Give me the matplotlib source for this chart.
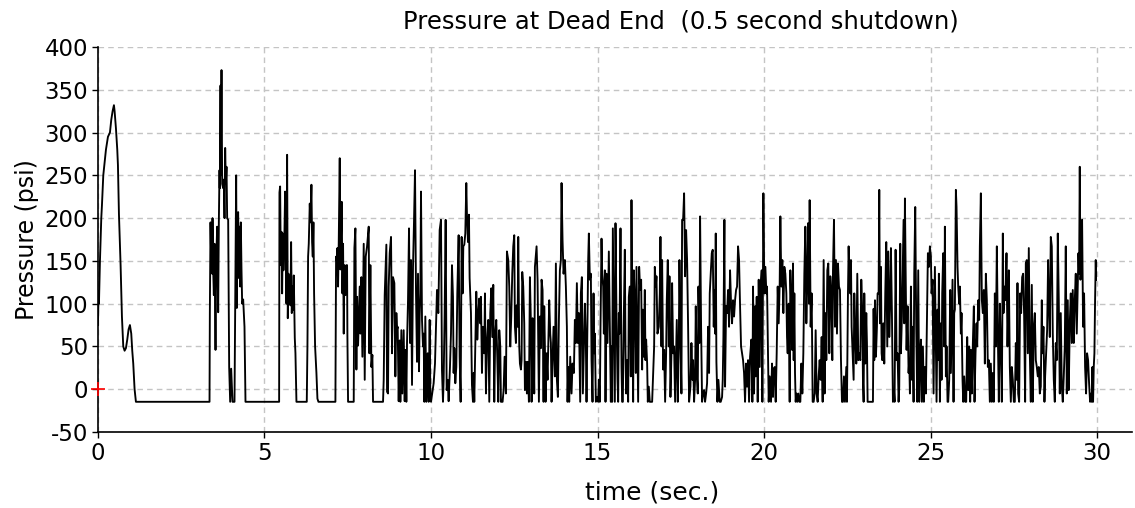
import numpy as np
import matplotlib
matplotlib.use("Agg")
import matplotlib.pyplot as plt

# ===== DATA (time in s, pressure in psi) =====
VAPOR = -14.7  # line sits here when the pipe cavitates

seg_startup = [(0.0, 75), (0.02, 115), (0.03, 100), (0.06, 150), (0.10, 200), (0.12, 215),
               (0.16, 250), (0.20, 265), (0.24, 280), (0.30, 295), (0.36, 300), (0.40, 315),
               (0.44, 325), (0.48, 332), (0.50, 325), (0.54, 305), (0.58, 280), (0.60, 262),
               (0.63, 205), (0.68, 145), (0.72, 85), (0.76, 50), (0.80, 45), (0.84, 48),
               (0.88, 58), (0.92, 70), (0.96, 75), (1.00, 65), (1.03, 45), (1.06, 30),
               (1.10, 0), (1.14, VAPOR)]

seg_3s = [(3.35, VAPOR), (3.36, 90), (3.38, 195), (3.40, 150), (3.41, 185), (3.43, 135),
          (3.44, 200), (3.46, 140), (3.48, 110), (3.50, 170), (3.53, 46), (3.55, 150),
          (3.58, 190), (3.61, 90), (3.63, 195), (3.65, 256), (3.66, 235), (3.68, 355),
          (3.69, 250), (3.71, 373), (3.73, 240), (3.76, 235), (3.78, 245), (3.80, 200),
          (3.82, 282), (3.84, 240), (3.86, 260), (3.88, 200), (3.91, 198), (3.94, 26),
          (3.97, VAPOR), (4.00, 24), (4.04, VAPOR), (4.10, VAPOR), (4.13, 147), (4.15, 250),
          (4.17, 95), (4.19, 200), (4.21, 207), (4.23, 130), (4.25, 190), (4.27, 120),
          (4.29, 195), (4.31, 140), (4.33, 100), (4.36, 105), (4.40, 73), (4.43, VAPOR)]

seg_5s = [(5.44, VAPOR), (5.45, 230), (5.47, 237), (5.49, 145), (5.51, 184), (5.53, 112),
          (5.55, 182), (5.57, 139), (5.59, 160), (5.62, 231), (5.64, 186), (5.66, 100),
          (5.68, 274), (5.70, 83), (5.72, 135), (5.74, 112), (5.76, 120), (5.78, 98),
          (5.80, 172), (5.82, 89), (5.84, 120), (5.86, 93), (5.88, 133), (5.91, 60),
          (5.93, 42), (5.96, VAPOR), (6.27, VAPOR), (6.29, 50), (6.31, 155), (6.33, 170),
          (6.36, 217), (6.38, 195), (6.41, 239), (6.43, 172), (6.45, 155), (6.47, 195),
          (6.49, 112), (6.52, 50), (6.56, 19), (6.59, -11), (6.62, VAPOR), (7.13, VAPOR),
          (7.15, 155), (7.17, 150), (7.19, 165), (7.21, 120), (7.23, 172), (7.26, 270),
          (7.28, 140), (7.30, 180), (7.32, 219), (7.34, 112), (7.36, 170), (7.38, 65),
          (7.40, 145), (7.43, 110), (7.46, 145)]

seg_7s = [(7.48, 145), (7.49, 63), (7.51, VAPOR), (7.68, VAPOR), (7.70, 165), (7.73, 188),
          (7.76, 23), (7.78, 108), (7.81, 51), (7.86, 120), (7.88, 65), (7.91, 131),
          (7.94, 38), (7.98, 170), (8.01, 11), (8.04, 155), (8.08, 167), (8.13, 190),
          (8.15, 42), (8.18, 145), (8.21, 26), (8.24, 40), (8.26, VAPOR), (8.56, VAPOR),
          (8.58, 11), (8.61, 110), (8.66, 169), (8.68, -3), (8.71, -5), (8.73, 120),
          (8.76, 159), (8.80, 178), (8.83, 42), (8.86, 131), (8.90, 124), (8.93, 15),
          (8.96, 89), (8.98, 70), (9.00, 73), (9.03, -14), (9.06, 57), (9.08, VAPOR),
          (9.11, 69), (9.14, -5), (9.18, 69), (9.21, -14), (9.24, 46), (9.26, VAPOR),
          (9.28, 54), (9.31, 104), (9.34, 188), (9.37, 54), (9.40, 151), (9.43, 5),
          (9.46, 143), (9.49, 196), (9.52, 256), (9.55, 112), (9.58, 32), (9.61, 135),
          (9.64, 21), (9.66, 85), (9.68, 112), (9.70, 231), (9.73, 81), (9.76, 50),
          (9.78, 65), (9.80, VAPOR), (9.83, 85), (9.86, VAPOR), (9.90, 42), (9.93, VAPOR),
          (9.96, 81), (9.98, -5)]

seg_10s = [(10.00, VAPOR), (10.08, 7), (10.12, 30), (10.18, 116), (10.22, 89), (10.26, 186),
           (10.30, 198), (10.33, 22), (10.36, VAPOR), (10.38, 11), (10.41, 89), (10.44, 198),
           (10.47, -1), (10.50, 11), (10.53, -14), (10.57, 26), (10.60, 65), (10.63, 145),
           (10.66, 108), (10.68, 19), (10.70, 48), (10.73, 7), (10.76, 26), (10.79, 112),
           (10.83, 180), (10.86, 38), (10.89, VAPOR), (10.92, 178), (10.95, 112), (10.97, 167),
           (11.00, 169), (11.03, 182), (11.06, 241), (11.08, 204), (11.11, 172), (11.14, 204),
           (11.16, 130), (11.20, 89), (11.23, 5), (11.26, VAPOR), (11.28, 19), (11.30, VAPOR),
           (11.33, 50), (11.36, 114), (11.39, 58), (11.42, 89), (11.45, 106), (11.48, 77),
           (11.50, 108), (11.53, 19), (11.56, 73), (11.60, 42), (11.62, 112), (11.65, -5),
           (11.68, 54), (11.72, 81), (11.75, VAPOR), (11.78, 89), (11.81, 118), (11.84, 61),
           (11.87, 122), (11.90, VAPOR), (11.93, 65), (11.96, 81), (11.99, 38), (12.02, VAPOR),
           (12.05, 69), (12.08, 50), (12.10, VAPOR), (12.15, VAPOR), (12.18, -1), (12.21, 38),
           (12.25, -5), (12.28, 161), (12.32, 151), (12.35, 120), (12.38, 50), (12.41, 85),
           (12.44, 135), (12.47, 167), (12.50, 180)]

seg_12s = [(12.52, 73), (12.55, 54), (12.57, 98), (12.60, 73), (12.62, 178), (12.65, 50),
           (12.67, 30), (12.70, 23), (12.72, 34), (12.74, 137), (12.77, 120), (12.80, 77),
           (12.82, -1), (12.85, 32), (12.88, -5), (12.90, 32), (12.94, VAPOR), (12.97, 131),
           (13.00, 77), (13.02, VAPOR), (13.05, 83), (13.08, 50), (13.10, -5), (13.12, 143),
           (13.15, 157), (13.17, 167), (13.20, 128), (13.22, 54), (13.24, VAPOR), (13.27, 85),
           (13.30, 48), (13.32, 128), (13.35, 116), (13.38, VAPOR), (13.40, 97), (13.42, 50),
           (13.44, VAPOR), (13.47, 42), (13.50, 11), (13.52, 46), (13.55, 104), (13.58, 65),
           (13.60, 54), (13.62, VAPOR), (13.65, 34), (13.68, 73), (13.72, 15), (13.75, 147),
           (13.78, 11), (13.81, -9), (13.84, 81), (13.87, 139), (13.90, 151), (13.92, 241),
           (13.95, 174), (13.98, 135), (14.02, 151), (14.05, 120), (14.08, 73), (14.10, VAPOR),
           (14.12, 26), (14.15, VAPOR), (14.18, 38), (14.22, -5), (14.25, 30), (14.29, 19),
           (14.32, 81), (14.35, 54), (14.38, 124), (14.41, 54), (14.44, 89), (14.48, VAPOR),
           (14.50, 112), (14.53, 131), (14.56, -5), (14.59, 50), (14.62, 100), (14.65, 54),
           (14.67, VAPOR), (14.70, 81), (14.72, 151), (14.74, 182), (14.77, 128), (14.80, 135),
           (14.82, 34), (14.85, VAPOR), (14.88, 112), (14.90, 42), (14.92, 65), (14.95, VAPOR),
           (14.99, -9), (15.02, VAPOR)]

seg_15s = [(15.04, 11), (15.07, VAPOR), (15.09, 73), (15.12, 176), (15.14, 135), (15.17, 120),
           (15.19, 65), (15.22, 139), (15.24, VAPOR), (15.27, 135), (15.30, 54), (15.32, 112),
           (15.34, 161), (15.37, 73), (15.40, VAPOR), (15.42, 50), (15.44, VAPOR), (15.46, 188),
           (15.49, 89), (15.52, VAPOR), (15.54, 194), (15.57, 85), (15.60, 11), (15.62, VAPOR),
           (15.64, 89), (15.66, 65), (15.69, 188), (15.72, 26), (15.74, VAPOR), (15.76, VAPOR),
           (15.79, 85), (15.82, 163), (15.84, 46), (15.86, -5), (15.89, 34), (15.92, VAPOR),
           (15.94, 108), (15.97, 120), (16.00, 15), (16.02, 221), (16.04, 97), (16.07, VAPOR),
           (16.09, 139), (16.12, 104), (16.15, 19), (16.17, 143), (16.20, 46), (16.22, VAPOR),
           (16.25, 143), (16.28, 116), (16.31, 128), (16.34, 23), (16.36, 93), (16.39, 38),
           (16.42, 116), (16.44, 34), (16.46, 58), (16.49, 30), (16.51, VAPOR), (16.54, 3),
           (16.57, VAPOR), (16.64, VAPOR), (16.67, 19), (16.70, 50), (16.72, 143), (16.75, 120),
           (16.77, 132), (16.80, 65), (16.84, 73), (16.87, 112), (16.89, 178), (16.92, 50),
           (16.94, 151), (16.97, 23), (17.00, 46), (17.03, VAPOR), (17.06, 42), (17.08, 104),
           (17.11, 151), (17.14, 50), (17.16, 132), (17.19, -9), (17.22, 42), (17.24, 124),
           (17.27, 42), (17.30, 50), (17.33, VAPOR), (17.36, 46), (17.38, 81), (17.41, VAPOR),
           (17.44, 50), (17.46, 151), (17.49, 61), (17.52, -5), (17.54, 198)]

seg_17s = [(17.57, 198), (17.60, 229), (17.63, 132), (17.66, 186), (17.69, 151), (17.72, 73),
           (17.75, VAPOR), (17.79, 3), (17.82, 54), (17.85, 11), (17.87, 34), (17.90, VAPOR),
           (17.93, 11), (17.95, 97), (17.98, 19), (18.01, -5), (18.03, 120), (18.06, 54),
           (18.08, 202), (18.11, 73), (18.14, VAPOR), (18.17, -5), (18.20, -1), (18.23, VAPOR),
           (18.26, -5), (18.29, 7), (18.32, 73), (18.35, 19), (18.37, 112), (18.40, 135),
           (18.43, 159), (18.46, 163), (18.49, 73), (18.51, 116), (18.53, 65), (18.55, 182),
           (18.57, 32), (18.60, VAPOR), (18.63, 11), (18.67, VAPOR), (18.70, VAPOR), (18.74, -9),
           (18.76, 11), (18.78, 61), (18.81, 198), (18.83, 3), (18.86, 97), (18.89, 89),
           (18.92, 116), (18.95, 73), (18.98, 139), (19.01, 100), (19.04, 77), (19.07, 104),
           (19.10, 85), (19.13, 104), (19.16, 116), (19.19, 120), (19.22, 167), (19.25, 151),
           (19.28, 97), (19.31, 50), (19.34, 42), (19.37, 34), (19.40, 19), (19.43, VAPOR),
           (19.46, 30), (19.49, 3), (19.52, 34), (19.55, VAPOR), (19.58, 38), (19.62, 58),
           (19.65, VAPOR), (19.67, 120), (19.70, -5), (19.73, 97), (19.75, 15), (19.78, 108),
           (19.81, VAPOR), (19.84, 128), (19.87, 26), (19.90, 120), (19.93, 139), (19.95, VAPOR),
           (19.98, 229), (20.01, 112), (20.04, 143), (20.07, 112)]

seg_20s = [(20.09, 120), (20.12, 34), (20.14, VAPOR), (20.17, 15), (20.21, VAPOR), (20.24, 30),
           (20.27, -9), (20.29, 23), (20.32, 26), (20.35, VAPOR), (20.38, 42), (20.41, 120),
           (20.44, 77), (20.47, 124), (20.49, 202), (20.52, 120), (20.55, 151), (20.58, 89),
           (20.61, 143), (20.64, 135), (20.67, 112), (20.69, 61), (20.71, 42), (20.74, 100),
           (20.77, VAPOR), (20.79, 139), (20.82, 89), (20.84, 46), (20.87, 147), (20.89, 34),
           (20.91, 112), (20.93, 19), (20.95, VAPOR), (20.97, -5), (21.00, VAPOR), (21.03, -5),
           (21.06, VAPOR), (21.09, VAPOR), (21.12, 30), (21.15, -5), (21.18, 42), (21.21, 135),
           (21.24, 190), (21.27, 77), (21.29, 112), (21.32, 194), (21.35, 100), (21.37, 221),
           (21.40, 73), (21.43, 112), (21.46, VAPOR), (21.49, VAPOR), (21.52, -5), (21.55, 69),
           (21.58, -5), (21.61, VAPOR), (21.64, 15), (21.67, 34), (21.70, 11), (21.73, 61),
           (21.76, VAPOR), (21.79, 151), (21.82, -5), (21.85, 89), (21.87, 34), (21.90, 139),
           (21.93, 147), (21.96, 42), (21.99, 132), (22.02, 112), (22.05, 34), (22.07, 139),
           (22.10, 198), (22.13, 73), (22.16, 151), (22.19, 65), (22.22, 147), (22.25, 120),
           (22.28, 116), (22.31, 34), (22.34, VAPOR), (22.37, VAPOR), (22.40, 15), (22.43, VAPOR),
           (22.45, 7), (22.47, 26), (22.49, VAPOR), (22.52, 112), (22.54, 167), (22.57, 120),
           (22.59, 112)]

seg_22s = [(22.61, 151), (22.63, 73), (22.66, 42), (22.69, 11), (22.71, 112), (22.74, 61),
           (22.77, 30), (22.80, 135), (22.83, 34), (22.86, 42), (22.89, 34), (22.92, 128),
           (22.95, 89), (22.97, 11), (22.99, VAPOR), (23.01, 112), (23.04, 30), (23.07, 89),
           (23.09, 54), (23.11, VAPOR), (23.27, VAPOR), (23.29, 94), (23.31, 34), (23.33, 104),
           (23.36, 38), (23.39, 73), (23.41, 112), (23.44, 112), (23.46, 233), (23.48, 77),
           (23.51, 143), (23.53, 42), (23.55, 34), (23.58, 77), (23.61, 30), (23.64, 112),
           (23.67, 172), (23.70, 50), (23.73, 161), (23.76, 61), (23.79, 106), (23.81, 165),
           (23.84, 89), (23.87, VAPOR), (23.90, -1), (23.92, VAPOR), (23.95, 163), (23.98, 34),
           (24.01, 42), (24.04, VAPOR), (24.06, 3), (24.09, 170), (24.11, 42), (24.14, 85),
           (24.16, 132), (24.19, 198), (24.21, 77), (24.23, 223), (24.26, 108), (24.28, 46),
           (24.31, 97), (24.34, 19), (24.36, 34), (24.38, -5), (24.41, 120), (24.44, 11),
           (24.46, 73), (24.49, VAPOR), (24.51, 135), (24.54, 213), (24.57, 73), (24.60, VAPOR),
           (24.63, 139), (24.66, VAPOR), (24.69, 42), (24.71, 58), (24.74, VAPOR), (24.77, 50),
           (24.80, VAPOR), (24.83, 26), (24.86, -5), (24.89, 81), (24.92, 159), (24.95, 143),
           (24.98, 167), (25.01, 155), (25.03, 112), (25.06, 128), (25.09, -5)]

seg_25s = [(25.13, 143), (25.16, 42), (25.18, VAPOR), (25.21, 93), (25.23, 34), (25.25, 135),
           (25.28, VAPOR), (25.31, 77), (25.33, 11), (25.35, 112), (25.38, 159), (25.41, 50),
           (25.43, 190), (25.46, 15), (25.48, 50), (25.51, VAPOR), (25.53, VAPOR), (25.56, 11),
           (25.59, 116), (25.61, 19), (25.63, 61), (25.66, 128), (25.69, VAPOR), (25.71, 89),
           (25.73, 93), (25.76, 233), (25.78, 213), (25.81, 143), (25.83, 120), (25.86, 100),
           (25.88, 120), (25.91, 65), (25.93, 89), (25.96, 11), (25.98, VAPOR), (26.01, 15),
           (26.04, VAPOR), (26.07, VAPOR), (26.10, 61), (26.13, -1), (26.16, 50), (26.19, VAPOR),
           (26.21, 46), (26.24, -5), (26.27, 54), (26.30, 97), (26.32, VAPOR), (26.35, 42),
           (26.38, 77), (26.40, 50), (26.43, 104), (26.46, 81), (26.48, 167), (26.51, 229),
           (26.54, 104), (26.57, 89), (26.60, 116), (26.63, 30), (26.66, 135), (26.69, 104),
           (26.72, 26), (26.75, 34), (26.78, VAPOR), (26.81, 30), (26.84, VAPOR), (26.87, 19),
           (26.90, VAPOR), (26.93, 112), (26.96, 50), (26.99, 167), (27.02, 65), (27.05, VAPOR),
           (27.08, 100), (27.11, 46), (27.14, VAPOR), (27.17, 182), (27.19, 89), (27.22, 120),
           (27.25, 104), (27.28, 159), (27.31, 50), (27.33, 89), (27.35, 139), (27.38, 26),
           (27.41, VAPOR), (27.44, 26), (27.47, 11), (27.50, VAPOR), (27.53, VAPOR), (27.56, 54),
           (27.59, 11), (27.61, 124), (27.63, -5)]

seg_27s = [(27.66, VAPOR), (27.69, 112), (27.72, 89), (27.75, 131), (27.78, 135), (27.81, 85),
           (27.84, VAPOR), (27.86, 147), (27.89, 151), (27.92, 42), (27.95, 165), (27.98, 42),
           (28.01, VAPOR), (28.04, 122), (28.07, VAPOR), (28.10, 73), (28.13, 89), (28.16, 34),
           (28.19, 26), (28.22, 15), (28.25, 26), (28.28, -5), (28.31, 3), (28.34, 104),
           (28.36, 42), (28.39, 73), (28.42, VAPOR), (28.44, 15), (28.47, 42), (28.50, 69),
           (28.53, 151), (28.55, 104), (28.58, 61), (28.61, 178), (28.64, 167), (28.67, 65),
           (28.70, 11), (28.73, VAPOR), (28.76, 54), (28.79, 34), (28.82, 182), (28.85, 104),
           (28.88, -5), (28.91, 89), (28.94, 3), (28.97, VAPOR), (29.00, 15), (29.03, 50),
           (29.06, 167), (29.09, -5), (29.12, 104), (29.15, -1), (29.18, 77), (29.21, 112),
           (29.24, 54), (29.27, 116), (29.30, 54), (29.33, 104), (29.36, 135), (29.39, 65),
           (29.42, 120), (29.44, 159), (29.46, 135), (29.48, 260), (29.50, 128), (29.52, 139),
           (29.55, 198), (29.58, 73), (29.61, 112), (29.64, 26), (29.67, -5), (29.70, 42),
           (29.73, 34), (29.76, 7), (29.79, VAPOR), (29.82, -5), (29.84, VAPOR), (29.86, 26),
           (29.88, VAPOR), (29.90, 26), (29.92, 42), (29.94, 104), (29.96, 151), (29.97, 128)]

segments = [seg_startup, seg_3s, seg_5s, seg_7s, seg_10s, seg_12s, seg_15s,
            seg_17s, seg_20s, seg_22s, seg_25s, seg_27s]

x_ticks = [0, 5, 10, 15, 20, 25, 30]
y_ticks = [-50, 0, 50, 100, 150, 200, 250, 300, 350, 400]

title = "Pressure at Dead End  (0.5 second shutdown)"

# ===== PLOT =====
pts = np.array([p for seg in segments for p in seg], dtype=float)
t, p = pts[:, 0], pts[:, 1]

plt.rcParams['font.family'] = ['DejaVu Sans']
plt.rcParams['axes.unicode_minus'] = False

fig = plt.figure(figsize=(11.35, 5.08), dpi=100)
ax = fig.add_axes([0.0863, 0.1496, 0.9111, 0.7579])

ax.plot(t, p, color='black', lw=1.35, zorder=3)
ax.plot([0], [0], marker='+', color='red', ms=10, mew=1.2, clip_on=False, zorder=4)

ax.set_xlim(0, 31.05)
ax.set_ylim(-50, 400)
ax.set_xticks(x_ticks)
ax.set_yticks(y_ticks)
ax.grid(True, color='#c4c4c4', linestyle=(0, (4, 3)), lw=1)

for s in ['top', 'right']:
    ax.spines[s].set_visible(False)
for s in ['left', 'bottom']:
    ax.spines[s].set_color('black')
    ax.spines[s].set_linewidth(1.2)

ax.tick_params(labelsize=16.5, length=4, width=1, direction='out', pad=3)
ax.set_xlabel('time (sec.)', fontsize=18)
ax.xaxis.set_label_coords(0.536, -0.125)
ax.set_ylabel('Pressure (psi)', fontsize=17, labelpad=4)
fig.text(0.6, 0.958, title, fontsize=17.5, ha='center', va='center')

fig.savefig('out.png', dpi=100)
